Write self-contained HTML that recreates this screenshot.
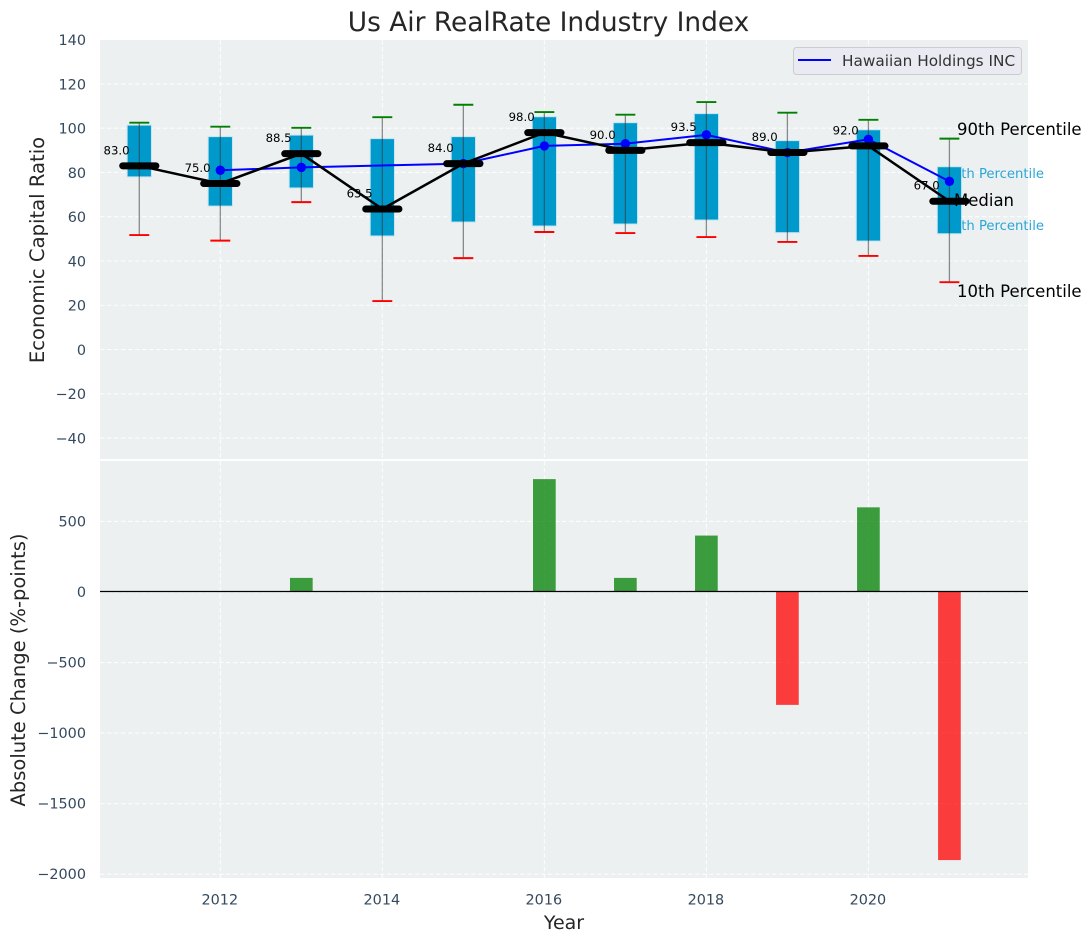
<!DOCTYPE html>
<html lang="en">
<head>
<meta charset="utf-8">
<title>Us Air RealRate Industry Index</title>
<style>
html,body{margin:0;padding:0;background:#fff;width:1092px;height:942px;overflow:hidden}
svg{display:block}
text{font-family:"DejaVu Sans","Liberation Sans",sans-serif}
</style>
</head>
<body>
<svg id="chart" xmlns="http://www.w3.org/2000/svg" width="1092" height="942" viewBox="0 0 1092 942">
  <rect x="0" y="0" width="1092" height="942" fill="#ffffff"/>
  <rect x="100" y="40" width="928" height="419" fill="#ecf0f1"/>
  <rect x="100" y="461" width="928" height="417" fill="#ecf0f1"/>
  <g id="grid"></g>
  <g id="ticks"></g>
  <g id="bars"></g>
  <line x1="100" x2="1028" y1="591.5" y2="591.5" stroke="#000" stroke-width="1.3"/>
  <text x="1044" y="178" text-anchor="end" font-size="13.2" fill="#2aa6d5">75th Percentile</text>
  <text x="1044" y="230" text-anchor="end" font-size="13.2" fill="#2aa6d5">25th Percentile</text>
  <g id="boxes"></g>
  <g id="values"></g>
  <g id="company"></g>
  <g id="medians"></g>
  <text x="548.5" y="31" text-anchor="middle" font-size="26.4" fill="#262626">Us Air RealRate Industry Index</text>
  <text transform="translate(44,250) rotate(-90)" text-anchor="middle" font-size="19.6" fill="#262626">Economic Capital Ratio</text>
  <text transform="translate(25,670) rotate(-90)" text-anchor="middle" font-size="19.5" fill="#262626">Absolute Change (%-points)</text>
  <text x="564" y="929" text-anchor="middle" font-size="19" fill="#262626">Year</text>
  <text x="957" y="135" font-size="16.5" fill="#000">90th Percentile</text>
  <text x="954" y="206" font-size="16.5" fill="#000">Median</text>
  <text x="957" y="297" font-size="16.5" fill="#000">10th Percentile</text>
  <g>
    <rect x="793.5" y="47.5" width="228" height="27" rx="3" fill="#eaeaf2" fill-opacity="0.8" stroke="#cccccc" stroke-width="1"/>
    <line x1="798" x2="831" y1="60" y2="60" stroke="#0000ff" stroke-width="2"/>
    <text x="842" y="66" font-size="15.3" fill="#333333">Hawaiian Holdings INC</text>
  </g>
</svg>
<script>
const years = [2011,2012,2013,2014,2015,2016,2017,2018,2019,2020,2021];
const p90 = [102.5,100.7,100.2,105,110.6,107.3,106.1,111.8,107,103.8,95.3];
const p75 = [101.4,96.2,96.9,95.3,96.2,105.2,102.5,106.6,94.4,99.3,82.6];
const median = [83,75,88.5,63.5,84,98,90,93.5,89,92,67];
const p25 = [78,64.8,73,51.3,57.6,55.8,56.7,58.5,52.8,49,52.3];
const p10 = [51.7,49.2,66.6,21.9,41.3,53.1,52.6,50.8,48.6,42.3,30.4];
const companyYears = [2012,2013,2015,2016,2017,2018,2019,2020,2021];
const companyValues = [81,82.3,84,92,93,97,89,95,76];
const changes = [0,0,100,0,0,800,100,400,-800,600,-1900];
const xTicks = [2012,2014,2016,2018,2020];
const upperTicks = [140,120,100,80,60,40,20,0,-20,-40];
const lowerTicks = [500,0,-500,-1000,-1500,-2000];

const NS = 'http://www.w3.org/2000/svg';
const xDomain = [2010.515, 2021.97], xRange = [100, 1028];
const uDomain = [-50, 140], uRange = [460.15, 39.7];
const lDomain = [0, -2000], lRange = [592, 874.2];
function scale(d, r, v){ return r[0] + (v - d[0]) * (r[1] - r[0]) / (d[1] - d[0]); }
function xS(v){ return scale(xDomain, xRange, v); }
function yU(v){ return scale(uDomain, uRange, v); }
function yL(v){ return scale(lDomain, lRange, v); }
function make(tag, parent, props){
  const n = document.createElementNS(NS, tag);
  for (const k in props) n.setAttribute(k, props[k]);
  document.getElementById(parent).appendChild(n);
  return n;
}
function fmt(v){ return String(v).replace('-', '\u2212'); }
const gridStyle = {stroke:'#ffffff','stroke-width':1.1,'stroke-dasharray':'4.5 2.5','stroke-opacity':0.85};

xTicks.forEach(t => {
  const a = make('line','grid',Object.assign({x1:xS(t),x2:xS(t),y1:40,y2:459},gridStyle));
  
  
  const b = make('line','grid',Object.assign({x1:xS(t),x2:xS(t),y1:461,y2:878},gridStyle));
  
  
  const l = make('text','ticks',{x:xS(t)-0.5,y:904.5,'text-anchor':'middle','font-size':14.4,fill:'#34495e'});
  
  
  l.textContent = fmt(t);
});
upperTicks.forEach(t => {
  if (t !== 140) {
    const g = make('line','grid',Object.assign({x1:100,x2:1028,y1:yU(t),y2:yU(t)},gridStyle));
    
    
  }
  const l = make('text','ticks',{x:86,y:yU(t)+5.3,'text-anchor':'end','font-size':14.4,fill:'#34495e'});
  
  
  l.textContent = fmt(t);
});
lowerTicks.forEach(t => {
  const g = make('line','grid',Object.assign({x1:100,x2:1028,y1:yL(t),y2:yL(t)},gridStyle));
  
  
  const l = make('text','ticks',{x:86,y:yL(t)+5,'text-anchor':'end','font-size':14.4,fill:'#34495e'});
  
  
  l.textContent = fmt(t);
});

const barHalf = 0.14;
changes.forEach((v,i) => {
  if (v === 0) return;
  const x0 = xS(years[i]-barHalf), x1 = xS(years[i]+barHalf);
  const top = Math.min(yL(0), yL(v)), h = Math.abs(yL(v)-yL(0));
  const r = make('rect','bars',{x:x0,y:top,width:x1-x0,height:h,fill:v>0?'#008000':'#ff0000','fill-opacity':0.75});
  
  
});

const boxHalf = 0.15, capHalf = 0.123, medHalf = 0.205;
years.forEach((yr,i) => {
  const cx = xS(yr);
  const r = make('rect','boxes',{x:xS(yr-boxHalf),y:yU(p75[i]),width:xS(yr+boxHalf)-xS(yr-boxHalf),height:yU(p25[i])-yU(p75[i]),fill:'#0099cc',stroke:'#c5e6f0','stroke-width':1});
  
  
  const w = make('line','boxes',{x1:cx,x2:cx,y1:yU(p90[i]),y2:yU(p10[i]),stroke:'#333333','stroke-width':1.3,'stroke-opacity':0.55});
  
  
  const c1 = make('line','boxes',{x1:xS(yr-capHalf),x2:xS(yr+capHalf),y1:yU(p90[i]),y2:yU(p90[i]),stroke:'#008000','stroke-width':1.9});
  
  
  const c2 = make('line','boxes',{x1:xS(yr-capHalf),x2:xS(yr+capHalf),y1:yU(p10[i]),y2:yU(p10[i]),stroke:'#ff0000','stroke-width':1.9});
  
  
  const t = make('text','values',{x:cx-9.7,y:yU(median[i])-11.5,'text-anchor':'end','font-size':11.7,fill:'#000'});
  
  
  t.textContent = median[i].toFixed(1);
});

const companyLine = make('polyline','company',{points:companyYears.map((y,i)=>xS(y)+','+yU(companyValues[i])).join(' '),fill:'none',stroke:'#0000ff','stroke-width':2});


companyYears.forEach((y,i) => {
  const c = make('circle','company',{cx:xS(y),cy:yU(companyValues[i]),r:4.7,fill:'#0000ff'});
  
  
});

const medianLine = make('polyline','medians',{points:years.map((y,i)=>xS(y)+','+yU(median[i])).join(' '),fill:'none',stroke:'#000000','stroke-width':2.5});


years.forEach((y,i) => {
  const m = make('line','medians',{x1:xS(y-medHalf),x2:xS(y+medHalf),y1:yU(median[i]),y2:yU(median[i]),stroke:'#000000','stroke-width':7,'stroke-linecap':'round'});
  
  
});
</script>
</body>
</html>
